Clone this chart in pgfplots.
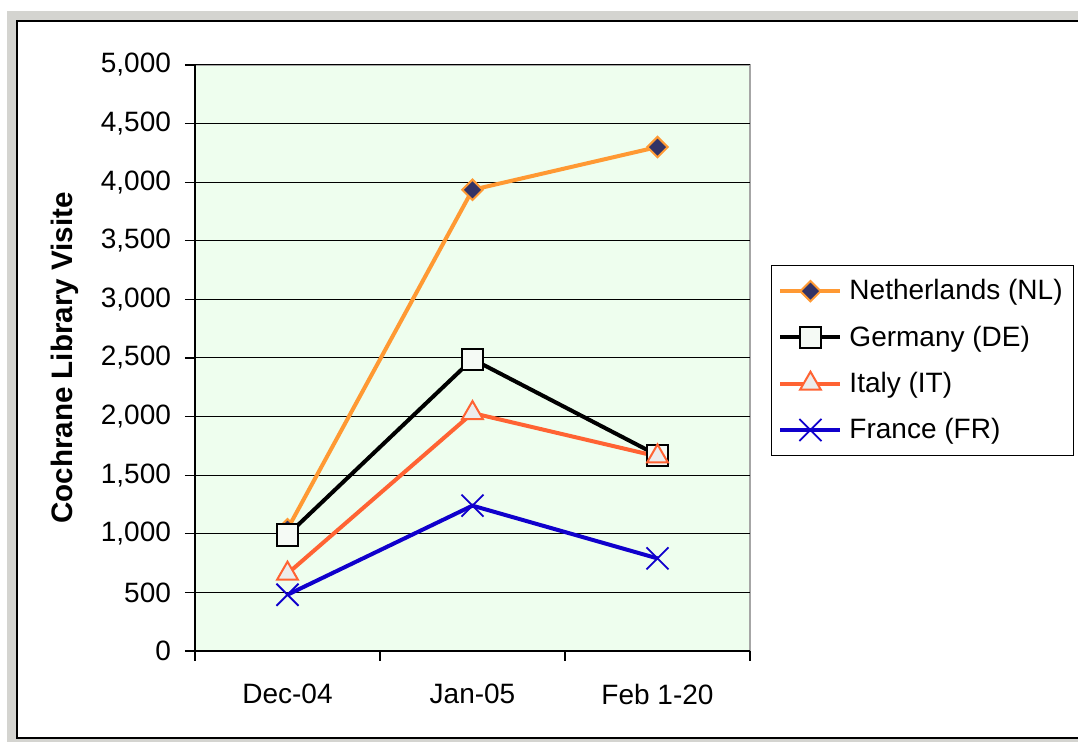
\documentclass[border=0pt]{standalone}
\usepackage{pgfplots}
\pgfplotsset{compat=1.18}
\usetikzlibrary{backgrounds,calc}
\usepackage{fontspec}
\setmainfont{Liberation Sans}
\definecolor{framegray}{RGB}{212,212,208}
\definecolor{plotbg}{RGB}{238,254,238}
\definecolor{nlorange}{RGB}{255,153,51}
\definecolor{nlnavy}{RGB}{51,51,102}
\definecolor{itred}{RGB}{255,99,51}
\definecolor{frblue}{RGB}{16,0,204}
\definecolor{sqfill}{RGB}{245,250,245}
\definecolor{trifill}{RGB}{236,236,236}
\begin{document}
\begin{tikzpicture}
\begin{axis}[
	overlay,
	scale only axis, width=277.5pt, height=293pt,
	xmin=-0.5, xmax=2.5, ymin=0, ymax=5000,
	axis x line*=bottom, axis y line*=left,
	axis line style={-, black, line width=0.6pt},
	axis background/.style={fill=plotbg, draw=gray!70, line width=1pt},
	xtick={0,1,2}, xticklabels={Dec-04,Jan-05,Feb 1-20},
	minor xtick={-0.5,0.5,1.5,2.5},
	x tick style={draw=none},
	minor x tick style={draw=black, line width=0.6pt},
	ytick={0,500,...,5000},
	y tick style={black, line width=0.6pt},
	tick align=outside, major tick length=5pt, minor tick length=5pt,
	ymajorgrids, grid style={black, line width=0.5pt},
	/pgf/number format/1000 sep={,},
	/pgf/number format/assume math mode=true,
	tick label style={font=\fontsize{14}{16}\selectfont},
	xticklabel style={yshift=-8pt},
	yticklabel style={xshift=-3.5pt},
	ylabel={Cochrane Library Visite},
	ylabel style={font=\fontsize{14.8}{17}\selectfont\bfseries, at={(axis description cs:-0.234,0.5)}, anchor=center},
	legend style={at={(axis description cs:1.0378,0.6587)}, anchor=north west,
		draw=black, line width=0.5pt, font=\fontsize{14}{16}\selectfont,
		row sep=7.5pt, inner xsep=3.5pt, inner ysep=5pt},
	legend cell align=left,
	legend image code/.code={\draw[mark repeat=2,mark phase=2,#1] plot coordinates {(0pt,0pt) (15pt,0pt) (30pt,0pt)}; \path (31.5pt,0pt);},
]
\coordinate (sw) at (rel axis cs:0,0);
\addplot[nlorange, line width=2pt, mark=square*, mark size=3.6pt,
	mark options={fill=nlnavy, draw=nlorange, line width=1pt, rotate=45, solid}]
	coordinates {(0,1040) (1,3935) (2,4300)};
\addplot[black, line width=2pt, mark=square*, mark size=5.3pt,
	mark options={fill=sqfill, draw=black, line width=1pt, solid}]
	coordinates {(0,990) (1,2490) (2,1670)};
\addplot[itred, line width=2pt, mark=triangle*, mark size=6pt,
	mark options={fill=trifill, draw=itred, line width=1pt, solid}]
	coordinates {(0,660) (1,2030) (2,1660)};
\addplot[frblue, line width=2pt, mark=x, mark size=7.8pt,
	mark options={draw=frblue, line width=0.9pt, solid}]
	coordinates {(0,480) (1,1240) (2,790)};
\legend{Netherlands (NL), Germany (DE), Italy (IT), France (FR)}
\end{axis}
% frame, in reference pixels measured from the axis corner at (195,651)
\begin{scope}[shift={(sw)}, x=0.5pt, y=-0.5pt, shift={(-195,-651)}]
\path[use as bounding box] (0,0) rectangle (1078,742);
\begin{scope}[on background layer]
\fill[framegray] (7,11) rectangle (1078,742);
\fill[white] (17,21) rectangle (1078,738);
\draw[line width=1.3pt] (1090,21) -- (17,21) -- (17,738) -- (1090,738);
\end{scope}
\end{scope}
\end{tikzpicture}
\end{document}
